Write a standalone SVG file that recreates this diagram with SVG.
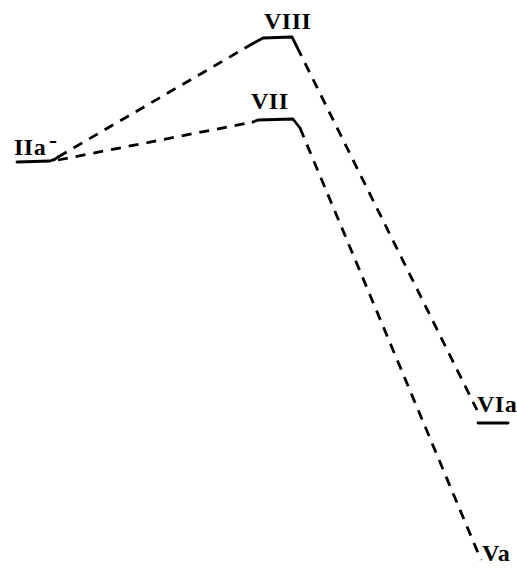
<svg xmlns="http://www.w3.org/2000/svg" width="517" height="568" viewBox="0 0 517 568">
  <style>
    .lvl { fill: none; stroke: #000; stroke-width: 2.8; stroke-linecap: round; stroke-linejoin: round; }
    .dash { fill: none; stroke: #000; stroke-width: 2.8; stroke-dasharray: 10 8; }
    .lbl { font-family: "Liberation Serif", "Times New Roman", serif; font-weight: bold; font-size: 24px; fill: #000; letter-spacing: 0.5px; }
  </style>
  <rect width="517" height="568" fill="#fff"/>

  <g id="connectors">
    <path class="dash" d="M58,157 L252,44"/>
    <path class="dash" d="M58,160 L253,122"/>
    <path class="dash" d="M297,47 L477,410"/>
    <path class="dash" d="M300,128 L481,560"/>
  </g>

  <g id="IIa">
    <path class="lvl" d="M17,162 L50,161 Q55,160 58,157"/>
    <text class="lbl" x="14" y="155" letter-spacing="1.5px">IIa</text>
    <text class="lbl" x="49" y="148" font-size="16px">-</text>
  </g>

  <g id="VIII">
    <path class="lvl" d="M252,44 L263,38 L292,37 L297,47"/>
    <text class="lbl" x="264" y="29">VIII</text>
  </g>

  <g id="VII">
    <path class="lvl" d="M253,122 L258,120 L293,119 L300,128"/>
    <text class="lbl" x="251" y="109">VII</text>
  </g>

  <g id="VIa">
    <path class="lvl" d="M478,423 L508,423"/>
    <text class="lbl" x="477" y="412">VIa</text>
  </g>

  <g id="Va">
    <text class="lbl" x="482" y="561" letter-spacing="3px">Va</text>
  </g>
</svg>
